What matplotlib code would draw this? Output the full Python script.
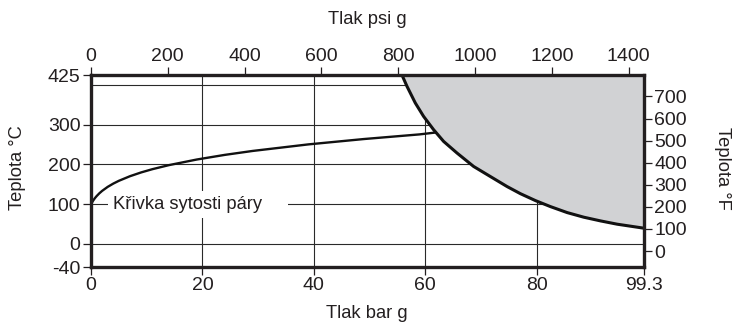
import matplotlib
matplotlib.use("Agg")
import matplotlib.pyplot as plt

plt.rcParams['font.family'] = ['Liberation Sans', 'DejaVu Sans']

# Saturation curve (bar g, °C)
sat_p = [0, 0.1, 0.2, 0.4, 0.6, 0.8, 1.0, 1.5, 2, 3, 4, 5, 7, 9, 11, 14, 19, 24, 29, 39, 49, 59, 62]
sat_t = [100, 102.3, 104.8, 109.3, 113.3, 116.9, 120.2, 127.4, 133.5, 143.6, 151.8, 158.8,
         170.4, 179.9, 188.0, 198.3, 212.4, 224.0, 233.9, 250.4, 263.9, 275.6, 280.5]

# Boundary of shaded region (bar g, °C)
bnd_p = [55.84, 56.74, 58.23, 59.72, 61.52, 63.32, 65.73, 68.71, 71.71, 74.71, 77.1,
         79.80, 82.49, 85.50, 88.48, 91.48, 94.48, 99.3]
bnd_t = [425, 396.5, 354.7, 320.9, 287.4, 257.9, 228.6, 194.9, 169.6, 144.4, 126.5,
         109.1, 94.0, 78.9, 67.3, 58.0, 49.7, 39.6]

x_ticks = [0, 20, 40, 60, 80, 99.3]
x_labels = ["0", "20", "40", "60", "80", "99.3"]
psi_ticks = [0, 200, 400, 600, 800, 1000, 1200, 1400]
y_min, y_max = -58, 425
y_ticks = [y_min, 0, 100, 200, 300, 425]
y_labels = ["-40", "0", "100", "200", "300", "425"]
f_ticks = [0, 100, 200, 300, 400, 500, 600, 700]
h_grid = [0, 100, 200, 300, 400]
v_grid = [20, 40, 60, 80]
x_max = 99.3
psi_max = 99.3 * 14.5038

INK = '#231f20'
TICK_FS = 14
LAB_FS = 13.2

fig = plt.figure(figsize=(7.34, 3.25), dpi=100)
ax = fig.add_axes([91/734, 1-267/325, (644-91)/734, (267-75)/325])
ax.set_xlim(0, x_max)
ax.set_ylim(y_min, y_max)

for y in h_grid:
    ax.axhline(y, color='#2a2a2a', lw=0.8, zorder=1)
for x in v_grid:
    ax.axvline(x, color='#2a2a2a', lw=0.8, zorder=1)

ax.fill_between(bnd_p, bnd_t, [y_max]*len(bnd_p), color='#d1d2d4', lw=0, zorder=2)
ax.plot(bnd_p, bnd_t, color='#111111', lw=2.2, zorder=3, solid_capstyle='butt')
ax.plot(sat_p, sat_t, color='#111111', lw=1.7, zorder=3, solid_capstyle='butt')

ax.text(3.95, 100, "Křivka sytosti páry    ", fontsize=13.2, va='center', ha='left', zorder=4,
        color=INK, bbox=dict(facecolor='white', edgecolor='none', pad=3.5))

for s in ax.spines.values():
    s.set_linewidth(2.4)
    s.set_color(INK)
    s.set_zorder(5)

ax.set_xticks(x_ticks)
ax.set_xticklabels(x_labels)
ax.set_yticks(y_ticks)
ax.set_yticklabels(y_labels)
ax.tick_params(direction='out', length=6, width=0.9, labelsize=TICK_FS, colors=INK, pad=1.5)

axt = ax.twiny()
axt.set_xlim(0, psi_max)
axt.set_xticks(psi_ticks)
axt.tick_params(direction='out', length=6, width=0.9, labelsize=TICK_FS, colors=INK, pad=1.5)

axr = ax.twinx()
axr.set_ylim(y_min*9/5+32, y_max*9/5+32)
axr.set_yticks(f_ticks)
axr.tick_params(direction='out', length=6, width=0.9, labelsize=TICK_FS, colors=INK, pad=1.5)

for a in (axt, axr):
    for s in a.spines.values():
        s.set_visible(False)

fig.text(367/734, 1-314/325, "Tlak bar g", fontsize=LAB_FS, ha='center', va='center', color=INK)
fig.text(367/734, 1-20/325, "Tlak psi g", fontsize=LAB_FS, ha='center', va='center', color=INK)
fig.text(18/734, 1-168/325, "Teplota °C", fontsize=LAB_FS, ha='center', va='center',
         rotation=90, color=INK)
fig.text(722/734, 1-168/325, "Teplota °F", fontsize=LAB_FS, ha='center', va='center',
         rotation=-90, color=INK)

fig.savefig("out.png", dpi=100)
